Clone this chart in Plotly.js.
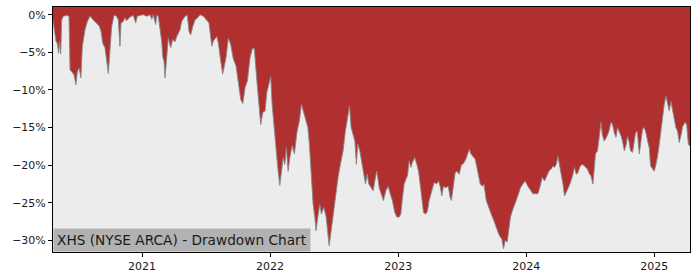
<!DOCTYPE html>
<html>
<head>
<meta charset="utf-8">
<script src="https://cdn.plot.ly/plotly-3.0.1.min.js"></script>
<style>html,body{margin:0;padding:0;background:#fff;}#chart{width:700px;height:280px;}</style>
</head>
<body>
<div id="chart"></div>
<script>
// Time as decimal years, drawdown in percent
const years = [
2020.305,2020.313,2020.328,2020.338,2020.349,2020.354,2020.365,2020.373,2020.385,2020.412,
2020.430,2020.438,2020.451,2020.469,2020.484,2020.495,2020.508,2020.523,2020.534,2020.555,
2020.573,2020.594,2020.620,2020.646,2020.666,2020.680,2020.693,2020.711,2020.724,2020.737,
2020.750,2020.763,2020.781,2020.802,2020.815,2020.828,2020.836,2020.854,2020.867,2020.880,
2020.906,2020.932,2020.951,2020.963,2020.984,2021.010,2021.037,2021.063,2021.076,2021.088,
2021.107,2021.115,2021.127,2021.141,2021.154,2021.162,2021.172,2021.180,2021.193,2021.205,
2021.224,2021.240,2021.258,2021.271,2021.297,2021.310,2021.336,2021.354,2021.367,2021.380,
2021.396,2021.414,2021.435,2021.453,2021.479,2021.505,2021.523,2021.545,2021.557,2021.584,
2021.596,2021.615,2021.630,2021.656,2021.674,2021.693,2021.713,2021.734,2021.752,2021.771,
2021.787,2021.805,2021.823,2021.844,2021.862,2021.877,2021.896,2021.914,2021.927,2021.943,
2021.961,2021.974,2021.990,2022.005,2022.016,2022.029,2022.047,2022.060,2022.076,2022.086,
2022.102,2022.115,2022.127,2022.141,2022.154,2022.172,2022.190,2022.211,2022.229,2022.245,
2022.258,2022.276,2022.295,2022.307,2022.320,2022.336,2022.349,2022.359,2022.373,2022.388,
2022.401,2022.420,2022.438,2022.451,2022.461,2022.477,2022.490,2022.505,2022.518,2022.531,
2022.549,2022.570,2022.588,2022.607,2022.620,2022.633,2022.648,2022.662,2022.674,2022.685,
2022.701,2022.713,2022.732,2022.745,2022.758,2022.771,2022.789,2022.805,2022.823,2022.834,
2022.852,2022.870,2022.885,2022.904,2022.922,2022.938,2022.955,2022.974,2022.990,2023.008,
2023.021,2023.034,2023.047,2023.060,2023.073,2023.086,2023.099,2023.112,2023.130,2023.146,
2023.159,2023.172,2023.185,2023.198,2023.216,2023.229,2023.242,2023.255,2023.268,2023.281,
2023.299,2023.315,2023.328,2023.341,2023.354,2023.373,2023.391,2023.406,2023.416,2023.430,
2023.445,2023.459,2023.477,2023.495,2023.510,2023.529,2023.541,2023.555,2023.568,2023.586,
2023.602,2023.615,2023.627,2023.641,2023.659,2023.670,2023.688,2023.705,2023.727,2023.748,
2023.766,2023.784,2023.799,2023.810,2023.823,2023.836,2023.852,2023.865,2023.877,2023.891,
2023.904,2023.922,2023.940,2023.955,2023.974,2023.992,2024.013,2024.034,2024.052,2024.070,
2024.091,2024.109,2024.125,2024.143,2024.162,2024.177,2024.195,2024.209,2024.221,2024.234,
2024.248,2024.260,2024.273,2024.287,2024.299,2024.313,2024.330,2024.346,2024.365,2024.377,
2024.391,2024.404,2024.422,2024.438,2024.455,2024.477,2024.495,2024.505,2024.521,2024.531,
2024.541,2024.557,2024.576,2024.584,2024.594,2024.609,2024.627,2024.646,2024.662,2024.674,
2024.688,2024.701,2024.713,2024.727,2024.740,2024.752,2024.766,2024.779,2024.791,2024.802,
2024.815,2024.830,2024.841,2024.854,2024.867,2024.875,2024.883,2024.896,2024.909,2024.922,
2024.935,2024.948,2024.961,2024.971,2024.984,2025.000,2025.013,2025.026,2025.039,2025.052,
2025.065,2025.078,2025.091,2025.104,2025.117,2025.130,2025.143,2025.156,2025.169,2025.182,
2025.195,2025.209,2025.221,2025.240,2025.253,2025.266,2025.279
];
const drawdownPct = [
-0.7,-1.5,-3.5,-3.8,-5.1,-3.6,-5.2,-0.7,-0.2,-0.1,
-0.2,-7.3,-7.6,-8.0,-9.3,-7.6,-7.1,-8.4,-4.2,-2.0,
-0.9,-0.2,-0.7,-1.2,-1.5,-2.2,-3.8,-4.4,-5.8,-7.8,
-4.7,-1.6,-0.1,-0.2,-0.7,-4.2,-1.1,-0.9,-0.4,-0.8,
-0.3,-0.1,-1.1,-0.2,-0.1,0.0,-0.2,0.0,-0.6,0.0,
-1.3,-0.1,-0.2,-2.0,-3.6,-5.6,-6.2,-8.4,-5.1,-3.1,
-4.4,-3.3,-3.6,-2.9,-2.0,-0.9,-0.2,-0.1,-2.2,-2.7,
-1.6,-0.7,-0.4,0.0,-0.2,-0.7,-1.1,-4.2,-3.5,-2.9,
-3.8,-6.2,-7.9,-5.7,-3.1,-4.0,-5.9,-6.8,-9.1,-11.3,
-11.8,-9.7,-8.8,-5.7,-4.5,-4.5,-8.6,-12.1,-14.6,-13.0,
-12.8,-10.4,-9.1,-8.2,-11.9,-14.6,-17.2,-20.3,-22.7,-21.2,
-19.0,-19.9,-17.6,-20.8,-19.0,-17.4,-18.5,-15.5,-14.1,-11.9,
-12.8,-14.1,-15.0,-17.2,-21.6,-25.2,-26.9,-28.7,-26.9,-25.2,
-26.5,-25.6,-26.9,-29.1,-30.7,-28.7,-26.9,-25.2,-23.4,-21.6,
-19.9,-18.1,-15.5,-13.2,-12.1,-15.0,-15.9,-16.8,-19.9,-17.2,
-18.1,-19.4,-21.6,-22.5,-21.2,-22.5,-23.0,-23.4,-21.6,-20.8,
-23.0,-24.1,-24.7,-23.4,-22.8,-23.8,-24.7,-26.3,-26.9,-26.9,
-26.5,-24.3,-22.5,-21.9,-21.4,-19.4,-20.3,-19.6,-19.0,-19.9,
-20.8,-22.5,-24.3,-26.3,-26.5,-26.1,-24.7,-23.8,-23.2,-22.3,
-22.5,-22.1,-22.8,-24.1,-22.8,-23.0,-22.8,-24.3,-24.7,-22.5,
-21.0,-20.8,-21.2,-19.9,-19.8,-19.2,-18.5,-17.9,-18.5,-18.8,
-19.2,-20.3,-21.6,-22.5,-22.8,-22.5,-24.7,-25.6,-26.5,-27.4,
-28.3,-29.1,-29.6,-29.8,-31.1,-30.0,-30.2,-28.7,-26.9,-26.1,
-25.4,-24.7,-23.8,-23.0,-22.5,-22.1,-22.8,-23.4,-23.8,-23.8,
-23.8,-22.8,-21.6,-22.1,-21.4,-20.8,-20.5,-20.1,-20.3,-19.9,
-18.8,-20.3,-21.2,-22.5,-24.1,-23.6,-23.0,-22.3,-21.2,-20.3,
-21.2,-21.0,-20.1,-19.9,-20.1,-20.5,-21.2,-21.4,-22.5,-20.8,
-18.5,-18.1,-15.5,-14.3,-15.9,-16.8,-16.3,-15.5,-14.3,-14.6,
-15.7,-16.3,-15.0,-15.5,-16.1,-16.8,-18.1,-17.4,-16.2,-16.8,
-18.1,-18.3,-17.2,-15.7,-15.5,-17.2,-18.5,-16.8,-15.2,-15.0,
-15.7,-16.8,-17.7,-20.1,-20.5,-20.8,-19.9,-18.8,-17.2,-15.5,
-13.2,-11.9,-10.8,-11.9,-12.8,-11.5,-12.8,-13.9,-15.0,-15.5,
-17.0,-16.0,-14.9,-14.3,-14.6,-17.2,-17.5
];
const xTickVals = [2021, 2022, 2023, 2024, 2025];
const xTickText = ["2021", "2022", "2023", "2024", "2025"];
const yTickVals = [-30, -25, -20, -15, -10, -5, 0];
const yTickText = ["\u221230%", "\u221225%", "\u221220%", "\u221215%", "\u221210%", "\u22125%", "0%"];
const titleText = "XHS (NYSE ARCA) - Drawdown Chart";

const topLine = years.map(() => 5);

const traces = [
  {x: years, y: topLine, mode: 'lines', line: {width: 0, color: 'rgba(0,0,0,0)'}, hoverinfo: 'skip', showlegend: false},
  {x: years, y: drawdownPct, mode: 'lines', fill: 'tonexty', fillcolor: 'rgb(176,48,48)',
   line: {color: 'rgb(135,135,135)', width: 0.9}, showlegend: false}
];

const axisFont = {family: 'DejaVu Sans', size: 11, color: '#1a1a1a'};
const layout = {
  width: 700, height: 280,
  margin: {l: 53, r: 10, t: 7, b: 28, pad: 0},
  paper_bgcolor: '#ffffff',
  plot_bgcolor: 'rgb(236,236,236)',
  showlegend: false,
  xaxis: {
    range: [2020.305, 2025.279], tickvals: xTickVals, ticktext: xTickText,
    showgrid: false, zeroline: false, showline: true, mirror: true,
    linecolor: '#000', linewidth: 1, ticks: 'outside', ticklen: 4, tickwidth: 1, tickcolor: '#000',
    tickfont: axisFont
  },
  yaxis: {
    range: [-31.54, 1.02], tickvals: yTickVals, ticktext: yTickText,
    showgrid: false, zeroline: false, showline: true, mirror: true,
    linecolor: '#000', linewidth: 1, ticks: 'outside', ticklen: 4, tickwidth: 1, tickcolor: '#000',
    tickfont: axisFont
  },
  annotations: [{
    text: titleText, xref: 'paper', yref: 'paper', x: 0, y: 0,
    xanchor: 'left', yanchor: 'bottom', showarrow: false,
    bgcolor: 'rgb(178,178,178)', borderpad: 3,
    font: {family: 'DejaVu Sans', size: 13.7, color: '#1a1a1a'}
  }]
};

Plotly.newPlot('chart', traces, layout, {displayModeBar: false, staticPlot: true});
</script>
</body>
</html>
